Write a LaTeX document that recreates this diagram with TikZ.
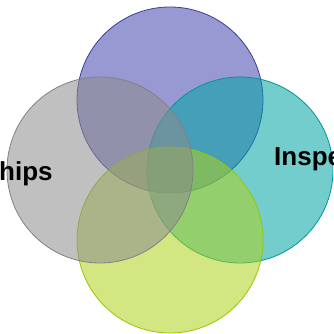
\documentclass[tikz,border=0pt]{standalone}
\usepackage{fontspec}
\setmainfont{Liberation Sans}
\definecolor{cpurple}{RGB}{68,68,173}
\definecolor{cgray}{RGB}{140,140,140}
\definecolor{cteal}{RGB}{0,164,164}
\definecolor{cgreen}{RGB}{173,209,28}
\definecolor{bpurple}{RGB}{60,60,160}
\definecolor{bgray}{RGB}{130,130,130}
\definecolor{bteal}{RGB}{0,150,150}
\definecolor{bgreen}{RGB}{150,200,0}
\tikzset{venn/.style={circle, minimum size=186pt, inner sep=0pt, fill opacity=0.55, line width=0.8pt},
  lbl/.style={font=\fontsize{26}{30}\selectfont\bfseries, inner sep=0pt, anchor=base west}}
\begin{document}
\begin{tikzpicture}[x=1pt,y=-1pt]
\useasboundingbox (0,0) rectangle (333,334);
\clip (0,0) rectangle (333,334);
\node[venn, fill=cpurple, draw=bpurple] (top) at (170,100) {};
\node[venn, fill=cteal, draw=bteal] (right) at (240,170) {};
\node[venn, fill=cgreen, draw=bgreen] (bottom) at (170,240) {};
\node[venn, fill=cgray, draw=bgray] (left) at (100,170) {};
\node[lbl] (lt) at (-1,180) {hips};
\node[lbl] (rt) at (274,165) {Inspe};
\end{tikzpicture}
\end{document}
